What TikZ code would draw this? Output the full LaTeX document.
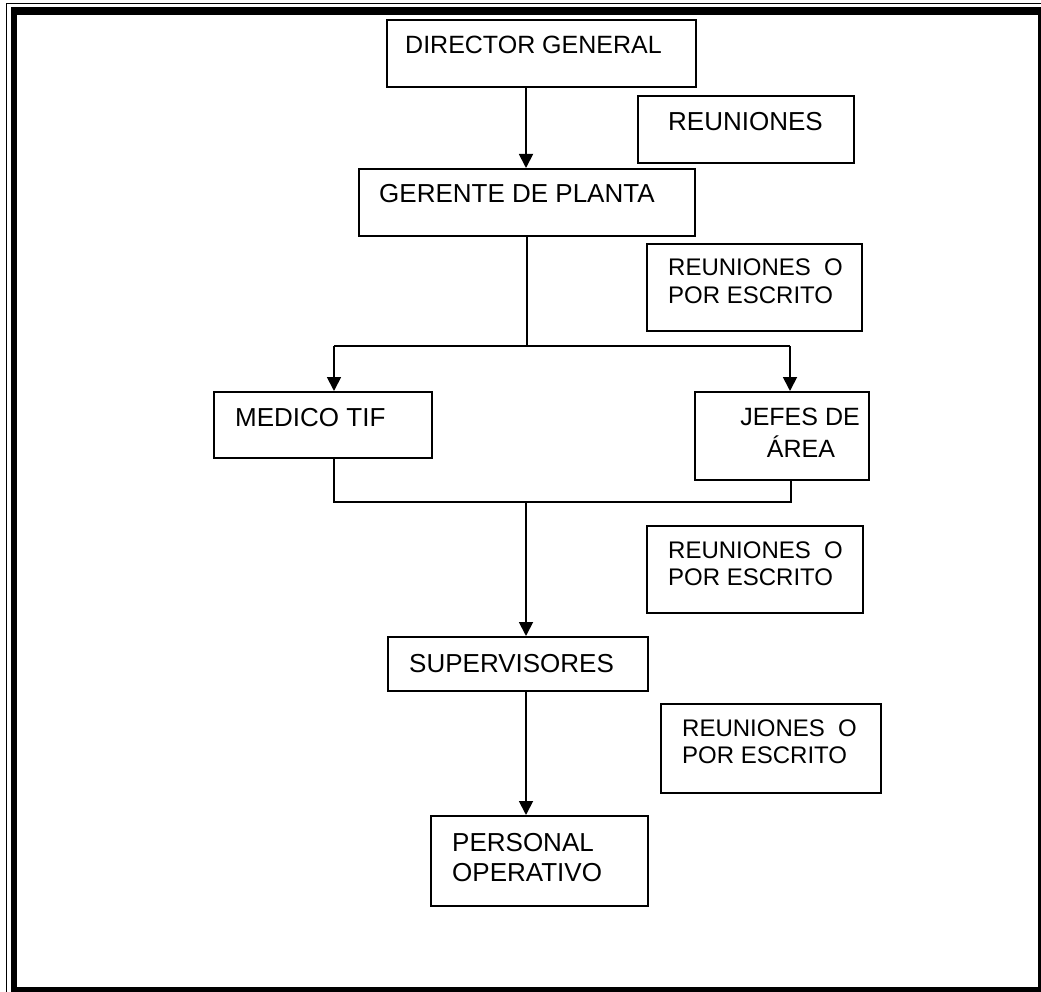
\documentclass[tikz,border=0pt]{standalone}
\usepackage{fontspec}
\setmainfont{Liberation Sans}
\usetikzlibrary{arrows.meta}
\begin{document}
\begin{tikzpicture}[x=1pt,y=-1pt,
  box/.style={draw=black,line width=1.6pt,rectangle,inner sep=0pt,anchor=north west},
  txt/.style={inner sep=0pt,anchor=base west,font=\fontsize{26}{30}\selectfont},
  stxt/.style={inner sep=0pt,anchor=base west,font=\fontsize{24}{28}\selectfont},
  conn/.style={line width=1.8pt},
  arr/.style={line width=1.8pt,-{Triangle[width=14pt,length=14pt]}}]
\useasboundingbox (0,0) rectangle (1041,992);
% frame
\draw[line width=1.2pt] (6.5,992) -- (6.5,3.5) -- (1041,3.5);
\fill (11,7) rectangle (17,992);
\fill (11,7) rectangle (1041,15);
\fill (1038,7) rectangle (1041,992);
\fill (11,987) rectangle (1041,992);
% boxes
\node[box,minimum width=309pt,minimum height=67pt] (dg) at (386,19) {};
\node[txt,font=\fontsize{25}{30}\selectfont] (dgt) at (405,54) {DIRECTOR GENERAL};
\node[box,minimum width=216pt,minimum height=67pt] (r1) at (637,95) {};
\node[txt] (r1t) at (668,131) {REUNIONES};
\node[box,minimum width=336pt,minimum height=67pt] (gp) at (358,168) {};
\node[txt] (gpt) at (379,203) {GERENTE DE PLANTA};
\node[box,minimum width=215pt,minimum height=87pt] (r2) at (646,243) {};
\node[stxt] (r2a) at (668,276) {REUNIONES\ \ O};
\node[stxt] (r2b) at (668,303) {POR ESCRITO};
\node[box,minimum width=218pt,minimum height=66pt] (mt) at (213,391) {};
\node[txt] (mtt) at (235,426) {MEDICO TIF};
\node[box,minimum width=174pt,minimum height=88pt] (ja) at (694,391) {};
\node[txt,font=\fontsize{25}{30}\selectfont,anchor=base] (jaa) at (800,425) {JEFES DE};
\node[txt,font=\fontsize{25}{30}\selectfont,anchor=base] (jab) at (801,457) {ÁREA};
\node[box,minimum width=216pt,minimum height=87pt] (r3) at (646,525) {};
\node[stxt] (r3a) at (668,558) {REUNIONES\ \ O};
\node[stxt] (r3b) at (668,585) {POR ESCRITO};
\node[box,minimum width=260pt,minimum height=54pt] (sv) at (387,636) {};
\node[txt] (svt) at (409,672) {SUPERVISORES};
\node[box,minimum width=220pt,minimum height=89pt] (r4) at (660,703) {};
\node[stxt] (r4a) at (682,736) {REUNIONES\ \ O};
\node[stxt] (r4b) at (682,763) {POR ESCRITO};
\node[box,minimum width=217pt,minimum height=90pt] (po) at (430,815) {};
\node[txt] (poa) at (452,851) {PERSONAL};
\node[txt] (pob) at (452,881) {OPERATIVO};
% connectors
\coordinate (j1) at (527,346);
\coordinate (j2) at (526,502);
\draw[arr] (dg.south -| j2) -- (gp.north -| j2);
\draw[conn] (gp.south -| j1) -- (j1);
\draw[conn] (334,346) -- (790,346);
\draw[arr] (334,346) -- (mt.north -| 334,0);
\draw[arr] (790,346) -- (ja.north -| 790,0);
\draw[conn] (mt.south -| 334,0) -- (334,502) -- (791,502) -- (ja.south -| 791,0);
\draw[arr] (j2) -- (sv.north -| j2);
\draw[arr] (sv.south -| j2) -- (po.north -| j2);
\end{tikzpicture}
\end{document}
